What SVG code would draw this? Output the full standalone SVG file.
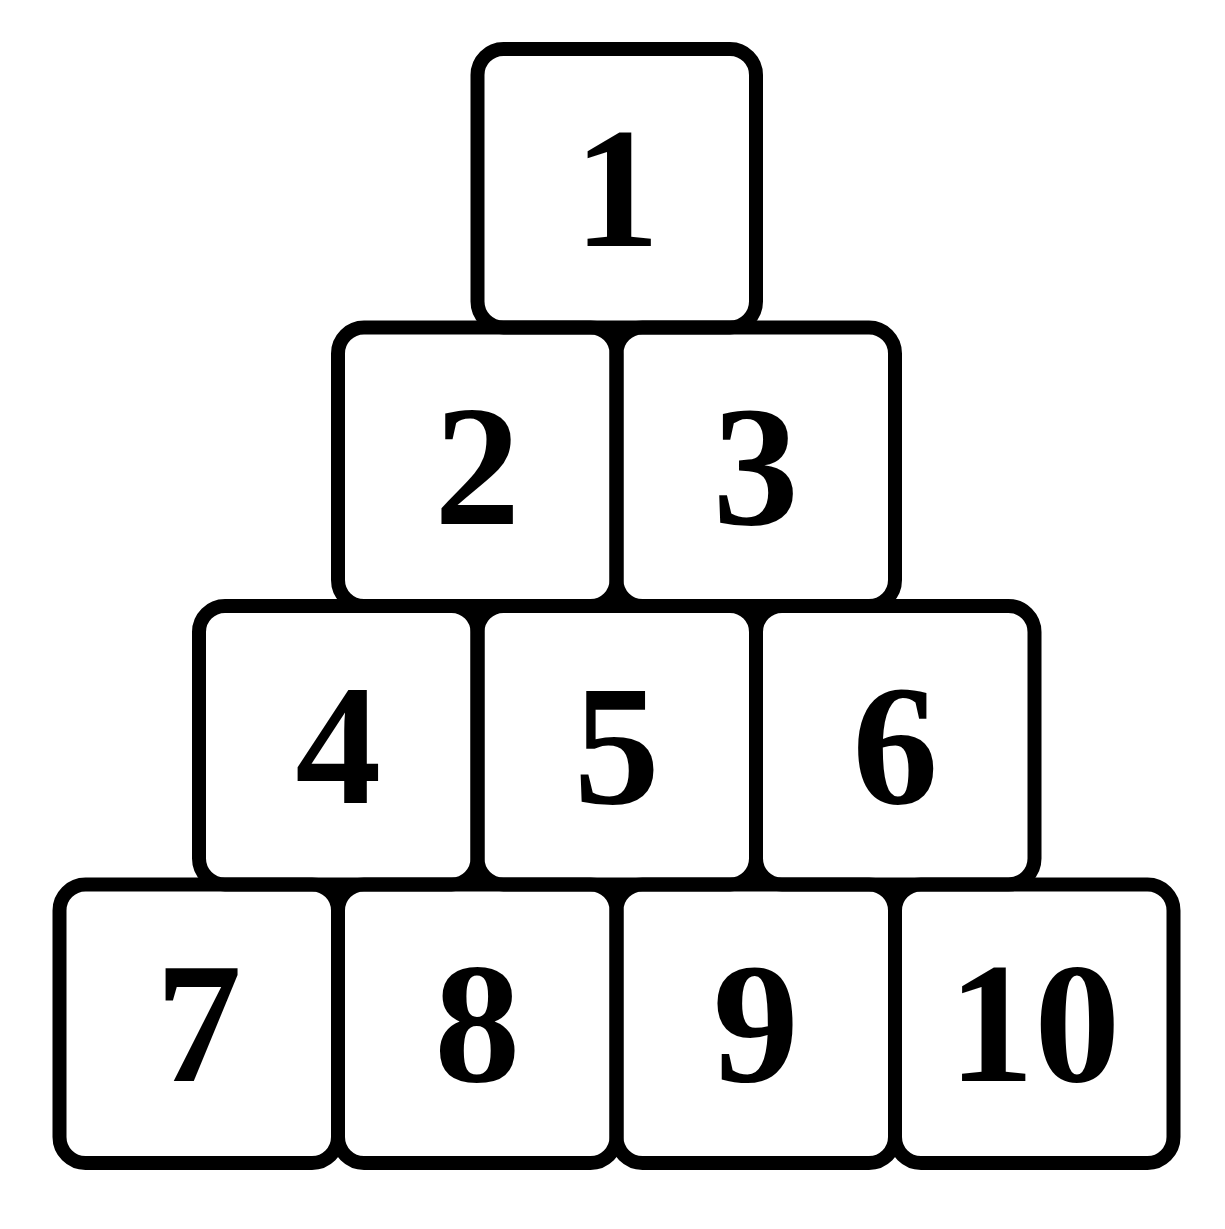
<svg xmlns="http://www.w3.org/2000/svg" width="1225" height="1229" viewBox="0 0 1225 1229">
<style>
.box{fill:none;stroke:#000;stroke-width:14}
.lbl{font-family:"Liberation Serif","DejaVu Serif",serif;font-weight:bold;font-size:172px;text-anchor:middle;fill:#000}
</style>
<defs>
<rect id="b" width="278.5" height="278.5" rx="26" ry="26"/>
</defs>
<rect width="1225" height="1229" fill="#fff"/>
<g id="n1"><use href="#b" class="box" x="477.5" y="49"/><text class="lbl" x="616.75" y="245.5">1</text></g>
<g id="n2"><use href="#b" class="box" x="338" y="327.5"/><text class="lbl" x="477.25" y="524">2</text></g>
<g id="n3"><use href="#b" class="box" x="616.5" y="327.5"/><text class="lbl" x="755.75" y="524">3</text></g>
<g id="n4"><use href="#b" class="box" x="199" y="606"/><text class="lbl" x="338.25" y="802.5">4</text></g>
<g id="n5"><use href="#b" class="box" x="477.5" y="606"/><text class="lbl" x="616.75" y="802.5">5</text></g>
<g id="n6"><use href="#b" class="box" x="756" y="606"/><text class="lbl" x="895.25" y="802.5">6</text></g>
<g id="n7"><use href="#b" class="box" x="59.5" y="884.5"/><text class="lbl" x="198.75" y="1081">7</text></g>
<g id="n8"><use href="#b" class="box" x="338" y="884.5"/><text class="lbl" x="477.25" y="1081">8</text></g>
<g id="n9"><use href="#b" class="box" x="616.5" y="884.5"/><text class="lbl" x="755.75" y="1081">9</text></g>
<g id="n10"><use href="#b" class="box" x="895" y="884.5"/><text class="lbl" x="1034.25" y="1081">10</text></g>
<g id="connectors"></g>
</svg>
